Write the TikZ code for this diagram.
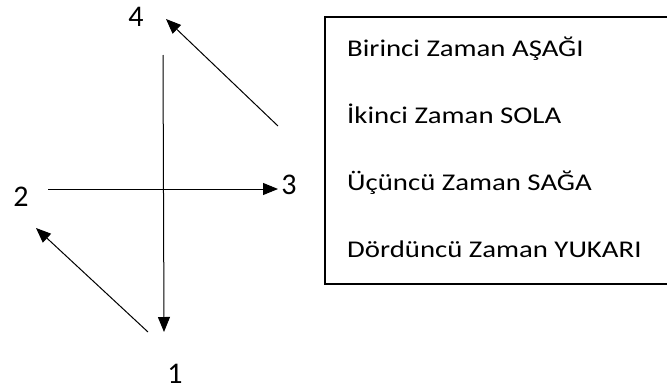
\documentclass[tikz,border=0pt]{standalone}
\usepackage{fontspec}
\setmainfont{Carlito}
\usetikzlibrary{arrows.meta, positioning}
\newcommand{\widetxt}[1]{\scalebox{1.2}[1]{#1}}

\begin{document}
\begin{tikzpicture}[x=1pt,y=-1pt,
        num/.style={inner sep=0pt, font=\fontsize{30}{30}\selectfont},
        rule/.style={anchor=base west, inner sep=0pt, font=\fontsize{24}{28}\selectfont},
        move/.style={-{Triangle[length=15pt,width=12pt]}, line width=1pt}]
        \useasboundingbox (0,0) rectangle (667,391);
        % numbers
        \node[num] (n4) at (136,17) {4};
        \node[num] (n3) at (289,185) {3};
        \node[num] (n2) at (21,197) {2};
        \node[num] (n1) at (175,374) {1};
        % arrow ends
        \coordinate (vtop) at (163,55);
        \coordinate (vbot) at (164,332);
        \coordinate (hleft) at (48,189);
        \coordinate (hright) at (278,189);
        \coordinate (ustart) at (278,126);
        \coordinate (uend) at (166,19);
        \coordinate (lstart) at (148,332);
        \coordinate (lend) at (36,228);
        \draw[move] (vtop) -- (vbot);
        \draw[move] (hleft) -- (hright);
        \draw[move] (ustart) -- (uend);
        \draw[move] (lstart) -- (lend);
        % legend
        \draw[line width=1.5pt] (667,17) -- (325,17) -- (325,284) -- (667,284);
        \node[rule] (r1) at (347,56) {\widetxt{Birinci Zaman AŞAĞI}};
        \node[rule] (r2) at (347,123) {\widetxt{İkinci Zaman SOLA}};
        \node[rule] (r3) at (347,190) {\widetxt{Üçüncü Zaman SAĞA}};
        \node[rule] (r4) at (347,257) {\widetxt{Dördüncü Zaman YUKARI}};
    \end{tikzpicture}
\end{document}
